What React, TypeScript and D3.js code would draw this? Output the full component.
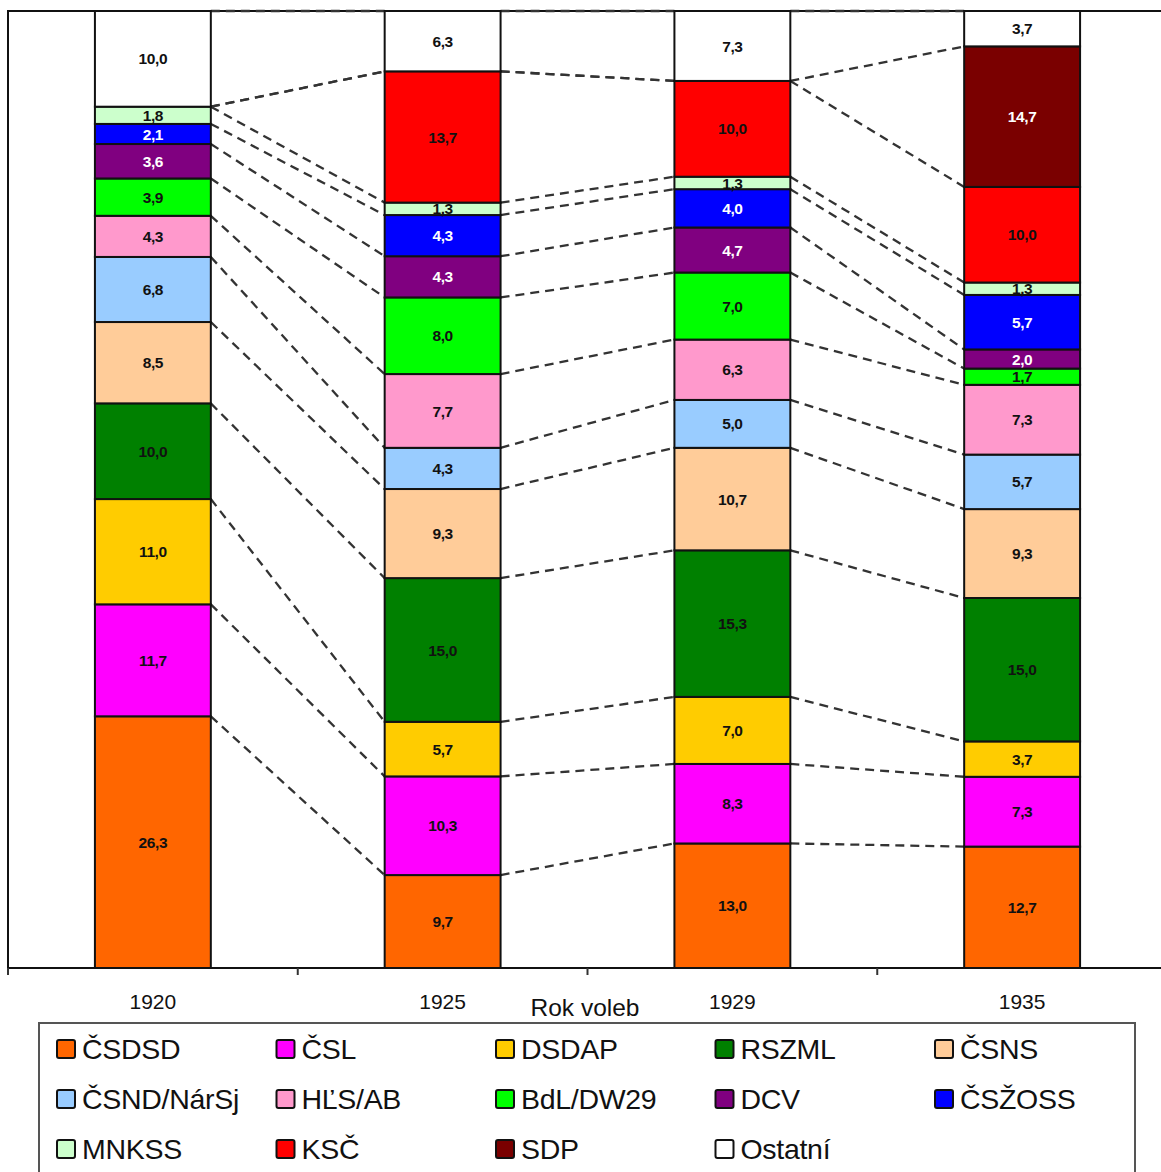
import { useEffect, useRef } from "react"
import * as d3 from "d3"

// election years (categories)
const years = ["1920", "1925", "1929", "1935"]

// parties in stacking order (bottom to top) and their fills
const parties = [
  "ČSDSD", "ČSL", "DSDAP", "RSZML", "ČSNS",
  "ČSND/NárSj", "HĽS/AB", "BdL/DW29", "DCV", "ČSŽOSS",
  "MNKSS", "KSČ", "SDP", "Ostatní",
]
const partyColors = [
  "#FF6600", "#FF00FF", "#FFCC00", "#008000", "#FFCC99",
  "#99CCFF", "#FF99CC", "#00FF00", "#800080", "#0000FF",
  "#CCFFCC", "#FF0000", "#7A0000", "#FFFFFF",
]
// parties whose label is printed in white
const whiteLabel = ["DCV", "ČSŽOSS", "SDP"]

// vote shares (%) per party, one value per election year
const csdsd = [26.3, 9.7, 13.0, 12.7]
const csl = [11.7, 10.3, 8.3, 7.3]
const dsdap = [11.0, 5.7, 7.0, 3.7]
const rszml = [10.0, 15.0, 15.3, 15.0]
const csns = [8.5, 9.3, 10.7, 9.3]
const csnd = [6.8, 4.3, 5.0, 5.7]
const hls = [4.3, 7.7, 6.3, 7.3]
const bdl = [3.9, 8.0, 7.0, 1.7]
const dcv = [3.6, 4.3, 4.7, 2.0]
const cszoss = [2.1, 4.3, 4.0, 5.7]
const mnkss = [1.8, 1.3, 1.3, 1.3]
const ksc = [0, 13.7, 10.0, 10.0]
const sdp = [0, 0, 0, 14.7]
const ostatni = [10.0, 6.3, 7.3, 3.7]

const seriesValues = [csdsd, csl, dsdap, rszml, csns, csnd, hls, bdl, dcv, cszoss, mnkss, ksc, sdp, ostatni]

const W = 1161
const H = 1172
const FONT = "'Liberation Sans', Arial, sans-serif"

export default function App() {
  const ref = useRef<SVGSVGElement>(null)

  useEffect(() => {
    if (!ref.current) return
    const svg = d3.select(ref.current)
    svg.selectAll("*").remove()

    const plot = { left: 8, right: 1167, top: 11, bottom: 968 }

    const table = years.map((y, i) => {
      const row: Record<string, number | string> = { year: y }
      parties.forEach((p, j) => (row[p] = seriesValues[j][i]))
      return row
    })

    const stack = d3.stack<Record<string, number | string>>()
      .keys(parties)
      .value((d, k) => d[k] as number)
      .offset(d3.stackOffsetExpand)
    const layers = stack(table)

    const x = d3.scaleBand().domain(years).range([plot.left, plot.right]).paddingInner(0).paddingOuter(0)
    const barW = x.bandwidth() * 0.4
    const barX = (y: string) => (x(y) || 0) + (x.bandwidth() - barW) / 2
    const yScale = d3.scaleLinear().domain([0, 1]).range([plot.bottom, plot.top])

    // plot area border
    svg.append("rect")
      .attr("x", plot.left).attr("y", plot.top)
      .attr("width", plot.right - plot.left).attr("height", plot.bottom - plot.top)
      .attr("fill", "white").attr("stroke", "#111").attr("stroke-width", 2)

    // series lines (dashed) between bars
    const lines = svg.append("g")
    layers.forEach((layer) => {
      for (let i = 0; i < years.length - 1; i++) {
        const a = layer[i], b = layer[i + 1]
        lines.append("line")
          .attr("x1", barX(years[i]) + barW).attr("y1", yScale(a[1]))
          .attr("x2", barX(years[i + 1])).attr("y2", yScale(b[1]))
          .attr("stroke", "#333").attr("stroke-width", 2.3)
          .attr("stroke-dasharray", "9,6")
      }
    })

    // bars
    layers.forEach((layer, j) => {
      svg.append("g")
        .selectAll("rect")
        .data(layer.filter((d) => d[1] - d[0] > 0))
        .join("rect")
        .attr("x", (d) => barX(d.data.year as string))
        .attr("y", (d) => yScale(d[1]))
        .attr("width", barW)
        .attr("height", (d) => yScale(d[0]) - yScale(d[1]))
        .attr("fill", partyColors[j])
        .attr("stroke", "#111")
        .attr("stroke-width", 2)
    })

    // value labels
    layers.forEach((layer, j) => {
      const p = parties[j]
      svg.append("g")
        .selectAll("text")
        .data(layer.filter((d) => (d.data[p] as number) > 0))
        .join("text")
        .attr("x", (d) => barX(d.data.year as string) + barW / 2)
        .attr("y", (d) => (yScale(d[0]) + yScale(d[1])) / 2)
        .attr("dy", "0.36em")
        .attr("text-anchor", "middle")
        .attr("font-family", FONT)
        .attr("font-weight", "bold")
        .attr("font-size", 15.5)
        .attr("letter-spacing", -0.4)
        .attr("fill", whiteLabel.includes(p) ? "white" : "#111")
        .text((d) => (d.data[p] as number).toFixed(1).replace(".", ","))
    })

    // x axis
    svg.append("line")
      .attr("x1", plot.left).attr("x2", W)
      .attr("y1", plot.bottom).attr("y2", plot.bottom)
      .attr("stroke", "#111").attr("stroke-width", 2)
    const tickXs = years.map((y) => x(y) || 0).concat([plot.right])
    svg.append("g").selectAll("line")
      .data(tickXs)
      .join("line")
      .attr("x1", (d) => d).attr("x2", (d) => d)
      .attr("y1", plot.bottom).attr("y2", plot.bottom + 7)
      .attr("stroke", "#333").attr("stroke-width", 2)
    svg.append("g").selectAll("text")
      .data(years)
      .join("text")
      .attr("x", (d) => (x(d) || 0) + x.bandwidth() / 2)
      .attr("y", 1001)
      .attr("dy", "0.36em")
      .attr("text-anchor", "middle")
      .attr("font-family", FONT)
      .attr("font-size", 21)
      .attr("fill", "#111")
      .text((d) => d)
    svg.append("text")
      .attr("x", 585).attr("y", 1007).attr("dy", "0.36em")
      .attr("text-anchor", "middle")
      .attr("font-family", FONT)
      .attr("font-size", 24.5)
      .attr("fill", "#111")
      .text("Rok voleb")

    // legend
    svg.append("rect")
      .attr("x", 39).attr("y", 1023)
      .attr("width", 1096).attr("height", 200)
      .attr("fill", "white").attr("stroke", "#555").attr("stroke-width", 2)
    const lg = svg.append("g")
    parties.forEach((p, j) => {
      const col = j % 5, row = Math.floor(j / 5)
      const lx = 57 + col * 219.5
      const ly = 1049 + row * 50
      lg.append("rect")
        .attr("x", lx).attr("y", ly - 9)
        .attr("width", 18).attr("height", 18).attr("rx", 2)
        .attr("fill", partyColors[j]).attr("stroke", "#111").attr("stroke-width", 2)
      lg.append("text")
        .attr("x", lx + 25).attr("y", ly).attr("dy", "0.36em")
        .attr("font-family", FONT)
        .attr("font-size", 28.5)
        .attr("letter-spacing", -0.3)
        .attr("fill", "#111")
        .text(p)
    })
  }, [])

  return (
    <svg
      ref={ref}
      width={W}
      height={H}
      style={{ position: "absolute", left: 0, top: 0, background: "white" }}
    />
  )
}
